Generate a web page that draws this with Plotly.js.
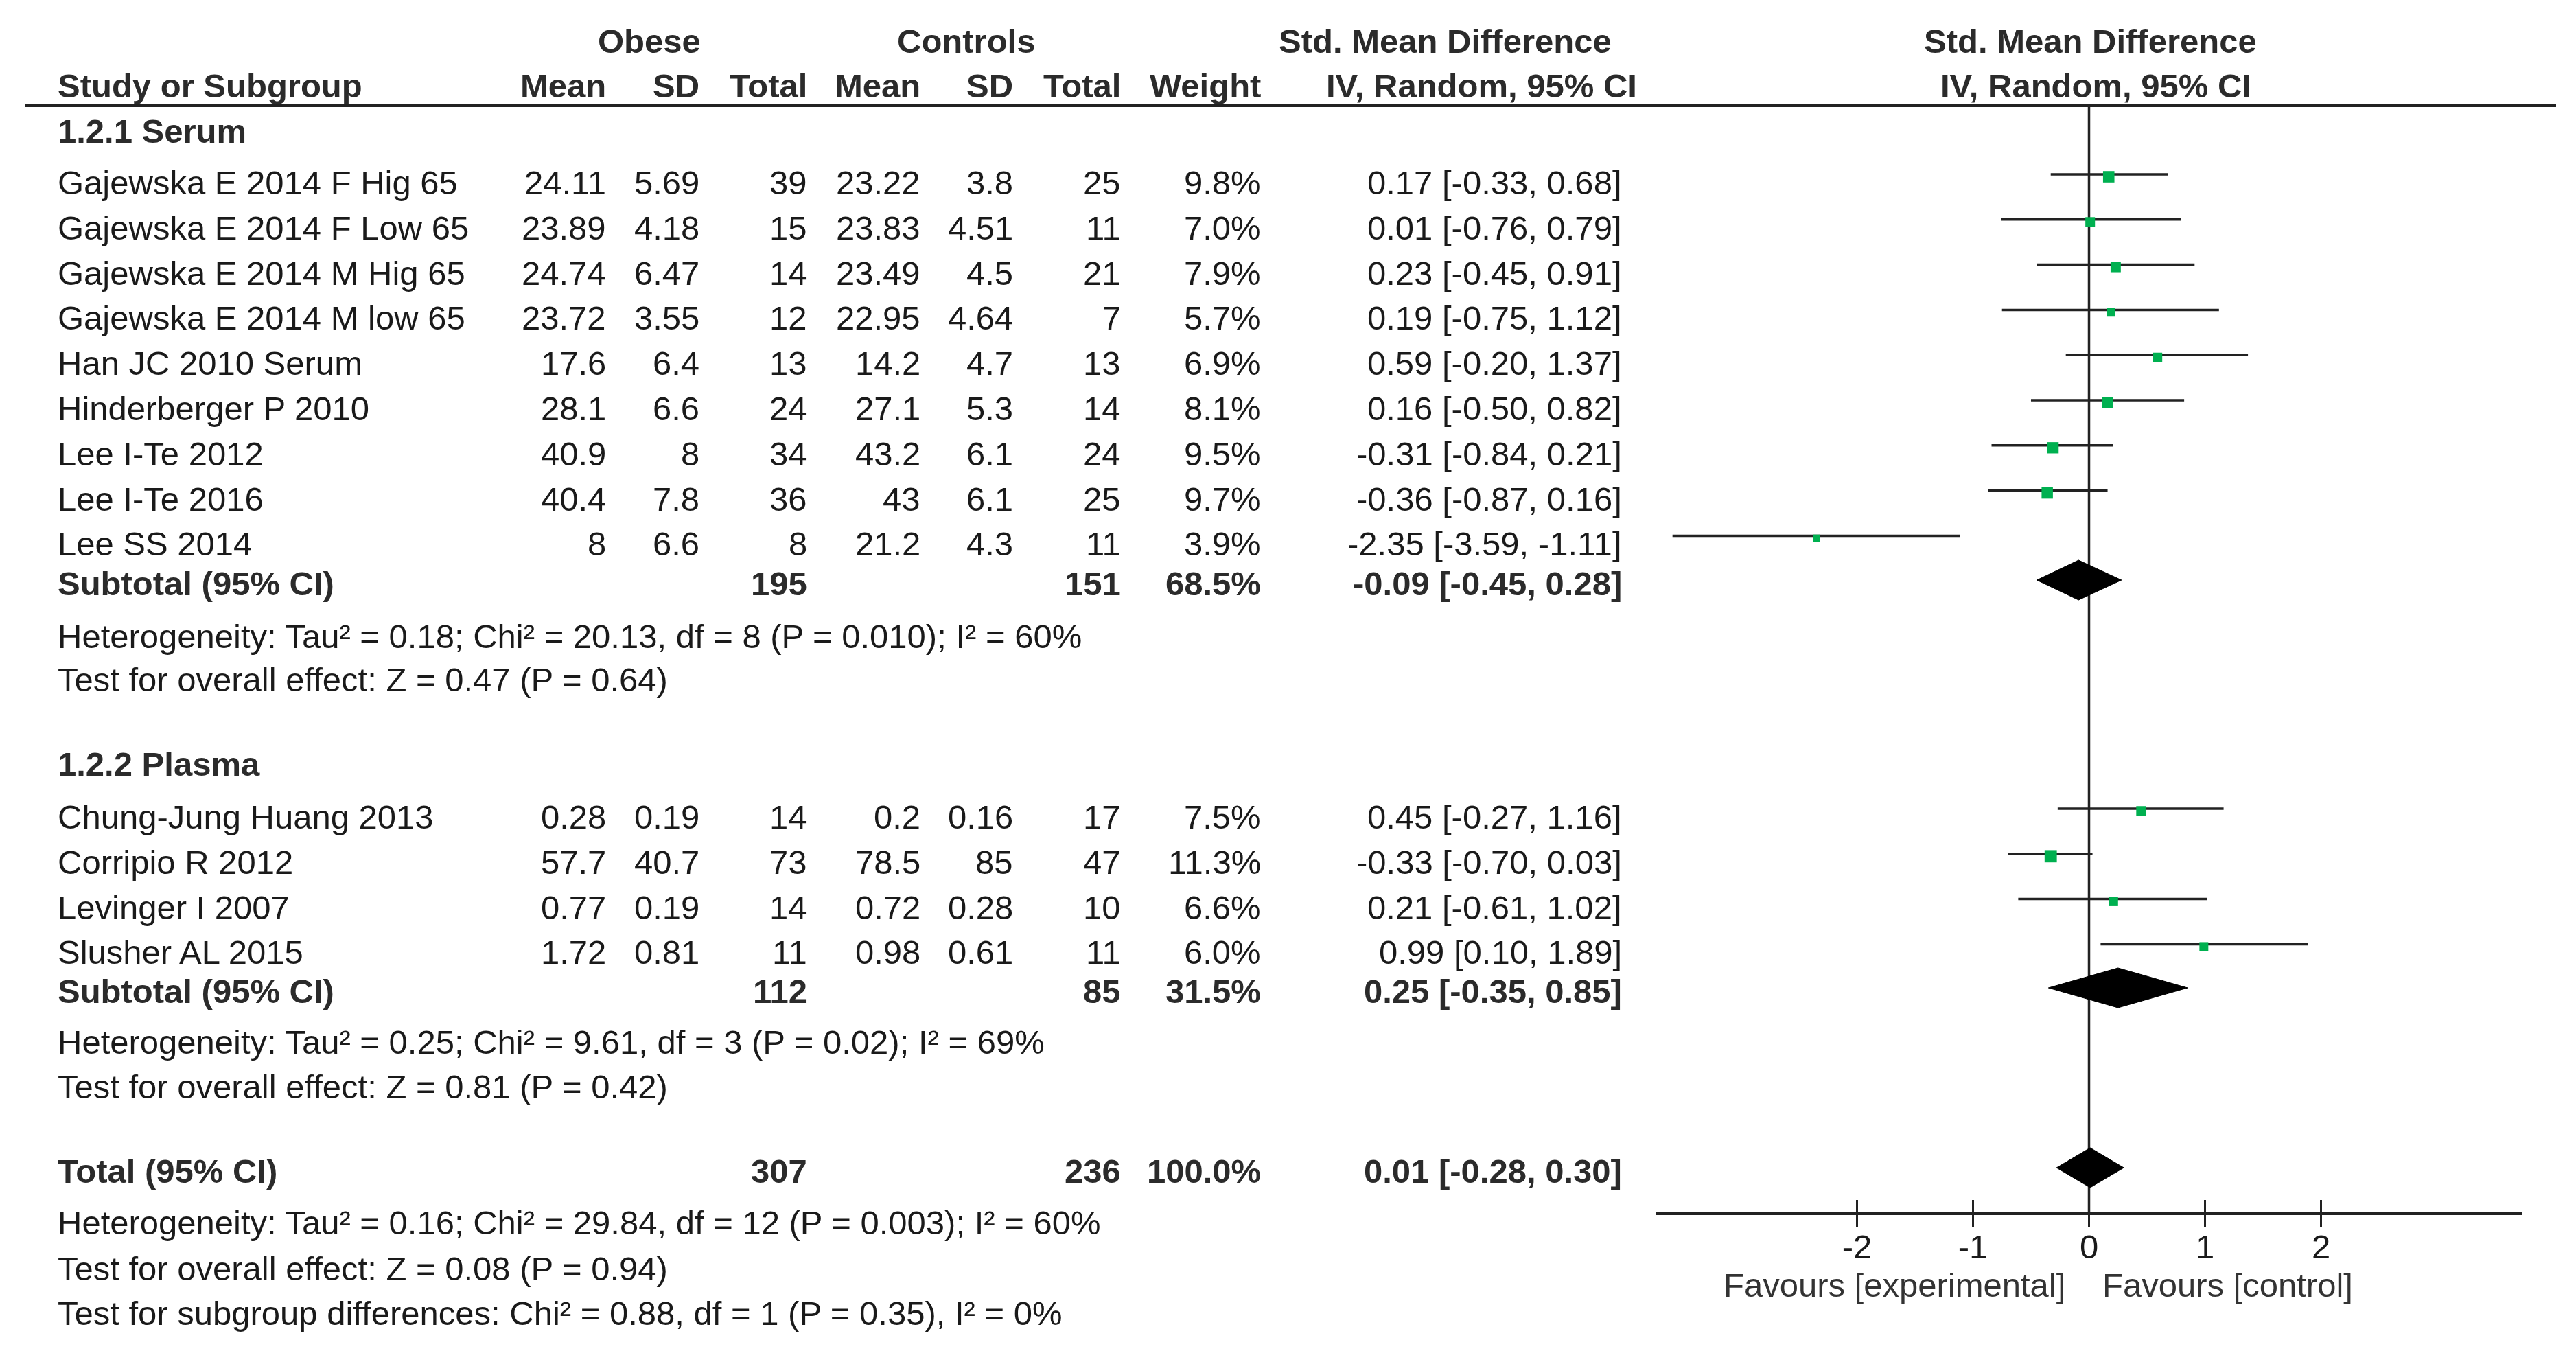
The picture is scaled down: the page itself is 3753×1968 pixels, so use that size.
<!DOCTYPE html>
<html>
<head>
<meta charset="utf-8">
<script src="https://cdn.plot.ly/plotly-3.0.1.min.js"></script>
<style>html,body{margin:0;padding:0;background:#fff;}#chart{width:3753px;height:1968px;}</style>
</head>
<body>
<div id="chart"></div>
<script>
// ---------------- DATA ----------------
const serumStudies = ["Gajewska E 2014 F Hig 65", "Gajewska E 2014 F Low 65", "Gajewska E 2014 M Hig 65", "Gajewska E 2014 M low 65", "Han JC 2010 Serum", "Hinderberger P 2010", "Lee I-Te 2012", "Lee I-Te 2016", "Lee SS 2014"];
const serumObeseMean = [24.11, 23.89, 24.74, 23.72, 17.6, 28.1, 40.9, 40.4, 8];
const serumObeseSD = [5.69, 4.18, 6.47, 3.55, 6.4, 6.6, 8, 7.8, 6.6];
const serumObeseN = [39, 15, 14, 12, 13, 24, 34, 36, 8];
const serumCtrlMean = [23.22, 23.83, 23.49, 22.95, 14.2, 27.1, 43.2, 43, 21.2];
const serumCtrlSD = [3.8, 4.51, 4.5, 4.64, 4.7, 5.3, 6.1, 6.1, 4.3];
const serumCtrlN = [25, 11, 21, 7, 13, 14, 24, 25, 11];
const serumWeight = [9.8, 7.0, 7.9, 5.7, 6.9, 8.1, 9.5, 9.7, 3.9];
const serumSMD = [0.17, 0.01, 0.23, 0.19, 0.59, 0.16, -0.31, -0.36, -2.35];
const serumLo = [-0.33, -0.76, -0.45, -0.75, -0.20, -0.50, -0.84, -0.87, -3.59];
const serumHi = [0.68, 0.79, 0.91, 1.12, 1.37, 0.82, 0.21, 0.16, -1.11];

const plasmaStudies = ["Chung-Jung Huang 2013", "Corripio R 2012", "Levinger I 2007", "Slusher AL 2015"];
const plasmaObeseMean = [0.28, 57.7, 0.77, 1.72];
const plasmaObeseSD = [0.19, 40.7, 0.19, 0.81];
const plasmaObeseN = [14, 73, 14, 11];
const plasmaCtrlMean = [0.2, 78.5, 0.72, 0.98];
const plasmaCtrlSD = [0.16, 85, 0.28, 0.61];
const plasmaCtrlN = [17, 47, 10, 11];
const plasmaWeight = [7.5, 11.3, 6.6, 6.0];
const plasmaSMD = [0.45, -0.33, 0.21, 0.99];
const plasmaLo = [-0.27, -0.70, -0.61, 0.10];
const plasmaHi = [1.16, 0.03, 1.02, 1.89];

// subtotal / total rows: [obese N, control N, weight, SMD, lo, hi]
const serumSubtotal = [195, 151, 68.5, -0.09, -0.45, 0.28];
const plasmaSubtotal = [112, 85, 31.5, 0.25, -0.35, 0.85];
const overallTotal = [307, 236, 100.0, 0.01, -0.28, 0.30];

const groupLabels = ["1.2.1 Serum", "1.2.2 Plasma"];
const serumStats = ["Heterogeneity: Tau² = 0.18; Chi² = 20.13, df = 8 (P = 0.010); I² = 60%", "Test for overall effect: Z = 0.47 (P = 0.64)"];
const plasmaStats = ["Heterogeneity: Tau² = 0.25; Chi² = 9.61, df = 3 (P = 0.02); I² = 69%", "Test for overall effect: Z = 0.81 (P = 0.42)"];
const totalStats = ["Heterogeneity: Tau² = 0.16; Chi² = 29.84, df = 12 (P = 0.003); I² = 60%", "Test for overall effect: Z = 0.08 (P = 0.94)", "Test for subgroup differences: Chi² = 0.88, df = 1 (P = 0.35), I² = 0%"];

const tickVals = [-2, -1, 0, 1, 2];
const tickLabels = ["-2", "-1", "0", "1", "2"];
const favourLabels = ["Favours [experimental]", "Favours [control]"];

// ---------------- LAYOUT ----------------
const W = 3753, H = 1968;
const FS = 49;
const FONT = "Liberation Sans, Arial, Helvetica, sans-serif";
const TXT = "#1a1a1a", BTXT = "#2b2b2b";
const PITCH = 65.8;
const col = {name: 82, oMean: 885, oSD: 1021, oN: 1178, cMean: 1343, cSD: 1478, cN: 1635, wt: 1839, ci: 2365};
const base = {
  hdr1: 77, hdr2: 142, hline: 154,
  serumHead: 208, serumRow0: 283, serumSub: 867, serumHet: 944, serumTest: 1007,
  plasmaHead: 1130, plasmaRow0: 1207, plasmaSub: 1461, plasmaHet: 1535, plasmaTest: 1600,
  total: 1723, totHet: 1798, totTest: 1865, totSub: 1930, axis: 1768, favours: 1889
};
const LINE_OFF = 29;   // CI line above text baseline
const SQ_OFF = 25.5;   // square centre above baseline
const DIA_OFF = 22;    // diamond centre above baseline
const DIA_H = 29;      // half height of diamond

const annotations = [];
function ann(text, xpx, b, anchor, bold, color) {
  annotations.push({
    xref: "paper", yref: "y", x: xpx / W, y: b - 17, xanchor: anchor, yanchor: "middle",
    text: bold ? "<b>" + text + "</b>" : text, showarrow: false,
    font: {family: FONT, size: FS, color: color || (bold ? BTXT : TXT)}
  });
}
const f2 = v => v.toFixed(2);
const ciText = (m, l, h) => f2(m) + " [" + f2(l) + ", " + f2(h) + "]";

// headers
ann("Obese", 946, base.hdr1, "center", true);
ann("Controls", 1407, base.hdr1, "center", true);
ann("Std. Mean Difference", 2105, base.hdr1, "center", true);
ann("Std. Mean Difference", 3045, base.hdr1, "center", true);
ann("Study or Subgroup", col.name, base.hdr2, "left", true);
ann("Mean", col.oMean, base.hdr2, "right", true);
ann("SD", col.oSD, base.hdr2, "right", true);
ann("Total", col.oN, base.hdr2, "right", true);
ann("Mean", col.cMean, base.hdr2, "right", true);
ann("SD", col.cSD, base.hdr2, "right", true);
ann("Total", col.cN, base.hdr2, "right", true);
ann("Weight", col.wt, base.hdr2, "right", true);
ann("IV, Random, 95% CI", 2158, base.hdr2, "center", true);
ann("IV, Random, 95% CI", 3053, base.hdr2, "center", true);

const ciX = [], ciY = [], sqX = [], sqY = [], sqS = [];
function studyRows(names, om, osd, on, cm, csd, cn, w, smd, lo, hi, b0) {
  names.forEach((n, i) => {
    const b = b0 + i * PITCH;
    ann(n, col.name, b, "left", false);
    ann(String(om[i]), col.oMean, b, "right", false);
    ann(String(osd[i]), col.oSD, b, "right", false);
    ann(String(on[i]), col.oN, b, "right", false);
    ann(String(cm[i]), col.cMean, b, "right", false);
    ann(String(csd[i]), col.cSD, b, "right", false);
    ann(String(cn[i]), col.cN, b, "right", false);
    ann(w[i].toFixed(1) + "%", col.wt, b, "right", false);
    ann(ciText(smd[i], lo[i], hi[i]), col.ci, b, "right", false);
    ciX.push(lo[i], hi[i], null); ciY.push(b - LINE_OFF, b - LINE_OFF, null);
    sqX.push(smd[i]); sqY.push(b - SQ_OFF); sqS.push(5.3 * Math.sqrt(w[i]));
  });
}
function summaryRow(label, s, b) {
  ann(label, col.name, b, "left", true);
  ann(String(s[0]), col.oN, b, "right", true);
  ann(String(s[1]), col.cN, b, "right", true);
  ann(s[2].toFixed(1) + "%", col.wt, b, "right", true);
  ann(ciText(s[3], s[4], s[5]), col.ci, b, "right", true);
  const yc = b - DIA_OFF;
  return {
    type: "scatter", mode: "lines", x: [s[4], s[3], s[5], s[3], s[4]],
    y: [yc, yc - DIA_H, yc, yc + DIA_H, yc], fill: "toself", fillcolor: "#000",
    line: {color: "#000", width: 1}, hoverinfo: "skip"
  };
}

ann(groupLabels[0], col.name, base.serumHead, "left", true);
studyRows(serumStudies, serumObeseMean, serumObeseSD, serumObeseN, serumCtrlMean, serumCtrlSD, serumCtrlN, serumWeight, serumSMD, serumLo, serumHi, base.serumRow0);
const d1 = summaryRow("Subtotal (95% CI)", serumSubtotal, base.serumSub);
ann(serumStats[0], col.name, base.serumHet, "left", false);
ann(serumStats[1], col.name, base.serumTest, "left", false);

ann(groupLabels[1], col.name, base.plasmaHead, "left", true);
studyRows(plasmaStudies, plasmaObeseMean, plasmaObeseSD, plasmaObeseN, plasmaCtrlMean, plasmaCtrlSD, plasmaCtrlN, plasmaWeight, plasmaSMD, plasmaLo, plasmaHi, base.plasmaRow0);
const d2 = summaryRow("Subtotal (95% CI)", plasmaSubtotal, base.plasmaSub);
ann(plasmaStats[0], col.name, base.plasmaHet, "left", false);
ann(plasmaStats[1], col.name, base.plasmaTest, "left", false);

const d3 = summaryRow("Total (95% CI)", overallTotal, base.total);
ann(totalStats[0], col.name, base.totHet, "left", false);
ann(totalStats[1], col.name, base.totTest, "left", false);
ann(totalStats[2], col.name, base.totSub, "left", false);

ann(favourLabels[0], 3011, base.favours, "right", false, "#333");
ann(favourLabels[1], 3061, base.favours, "left", false, "#333");

const traces = [
  {type: "scatter", mode: "lines", x: ciX, y: ciY, line: {color: "#222", width: 3.5}, hoverinfo: "skip", connectgaps: false},
  {type: "scatter", mode: "markers", x: sqX, y: sqY, marker: {symbol: "square", size: sqS, color: "#00b050", opacity: 1, line: {width: 0}}, hoverinfo: "skip"},
  d1, d2, d3
];

const axisPos = 1 - base.axis / H;
const xRange = [-3.73, 3.73];
const xDomain = [2413 / W, 3674 / W];
const layout = {
  width: W, height: H, margin: {l: 0, r: 0, t: 0, b: 0, pad: 0},
  paper_bgcolor: "#fff", plot_bgcolor: "rgba(0,0,0,0)", showlegend: false,
  font: {family: FONT, size: FS, color: TXT},
  // labelled axis: ticks drawn upward (inside); a twin axis draws the downward half of each tick
  xaxis: {domain: xDomain, range: xRange, anchor: "free", position: axisPos,
    showgrid: false, zeroline: false, showline: true, linecolor: "#222", linewidth: 4,
    ticks: "inside", ticklen: 18, tickwidth: 3.5, tickcolor: "#222", ticklabelstandoff: 4,
    tickvals: tickVals, ticktext: tickLabels, tickfont: {family: FONT, size: FS, color: TXT}, fixedrange: true},
  xaxis2: {domain: xDomain, range: xRange, overlaying: "x", anchor: "free", position: axisPos,
    showgrid: false, zeroline: false, showline: false, showticklabels: false,
    ticks: "outside", ticklen: 18, tickwidth: 3.5, tickcolor: "#222", tickvals: tickVals, fixedrange: true},
  yaxis: {domain: [0, 1], range: [H, 0], visible: false, fixedrange: true},
  shapes: [
    {type: "line", xref: "paper", yref: "y", x0: 37 / W, x1: 3724 / W, y0: base.hline, y1: base.hline, line: {color: "#222", width: 4}},
    {type: "line", xref: "x", yref: "y", x0: 0, x1: 0, y0: base.hline, y1: base.axis, line: {color: "#222", width: 3.5}, layer: "below"}
  ],
  annotations: annotations
};
// invisible point that puts the twin tick axis into use
traces.push({type: "scatter", mode: "markers", x: [0], y: [base.axis], xaxis: "x2", marker: {opacity: 0}, hoverinfo: "skip"});

Plotly.newPlot("chart", traces, layout, {displayModeBar: false, staticPlot: true});
</script>
</body>
</html>
